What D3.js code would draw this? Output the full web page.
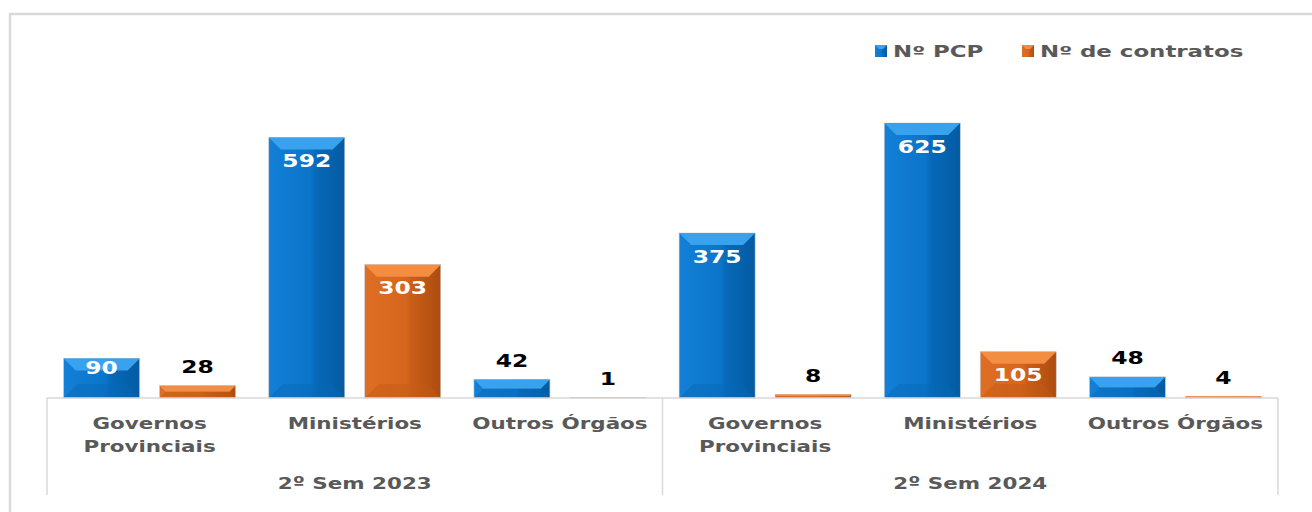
<!DOCTYPE html>
<html>
<head>
<meta charset="utf-8">
<script src="https://cdn.jsdelivr.net/npm/d3@7"></script>
<style>
  body { margin: 0; background: #fff; }
  text { font-family: "DejaVu Sans", Verdana, sans-serif; font-weight: bold; }
</style>
</head>
<body>
<div id="chart"></div>
<script>
// data
var periods = ["2º Sem 2023", "2º Sem 2024"];
var categories = ["Governos Provinciais", "Ministérios", "Outros Órgãos"];
var seriesNames = ["Nº PCP", "Nº de contratos"];
var pcp2023 = [90, 592, 42];
var contratos2023 = [28, 303, 1];
var pcp2024 = [375, 625, 48];
var contratos2024 = [8, 105, 4];

var W = 1312, H = 512;
var stretch = 1.3; // the reference text is drawn wide

var rows = [];
periods.forEach(function(p, pi) {
  var pcp = pi === 0 ? pcp2023 : pcp2024;
  var con = pi === 0 ? contratos2023 : contratos2024;
  categories.forEach(function(c, ci) {
    rows.push({period: p, cat: c, series: seriesNames[0], value: pcp[ci]});
    rows.push({period: p, cat: c, series: seriesNames[1], value: con[ci]});
  });
});

var svg = d3.select("#chart").append("svg")
    .attr("width", W).attr("height", H);

svg.append("rect").attr("width", W).attr("height", H).attr("fill", "#fff");

// outer frame of the chart area
svg.append("rect")
    .attr("x", 10).attr("y", 14)
    .attr("width", W + 40).attr("height", H + 40)
    .attr("fill", "none")
    .attr("stroke", "#d9d9d9")
    .attr("stroke-width", 2.5);

// scales
var x0 = d3.scaleBand().domain(periods).range([47, 1278]);
var x1 = d3.scaleBand().domain(categories).range([0, x0.bandwidth()]);
var x2 = d3.scaleBand().domain(seriesNames).range([0, x1.bandwidth()])
    .paddingInner(0.208).paddingOuter(0.173);
var y = d3.scaleLinear().domain([0, 700]).range([398, 90]);

var palette = {
  "Nº PCP": {main: ["#137fd6", "#0b75ca", "#0769b9", "#045ba1"], top: "#39a2ee", bottom: "#0768b6"},
  "Nº de contratos": {main: ["#de6e24", "#d6661d", "#c95e18", "#ad4c10"], top: "#f38d42", bottom: "#c45a16"}
};

var defs = svg.append("defs");
seriesNames.forEach(function(s, i) {
  var g = defs.append("linearGradient").attr("id", "grad" + i)
      .attr("x1", "0%").attr("x2", "100%").attr("y1", "0%").attr("y2", "0%");
  var c = palette[s].main;
  g.append("stop").attr("offset", "0%").attr("stop-color", c[0]);
  g.append("stop").attr("offset", "55%").attr("stop-color", c[1]);
  g.append("stop").attr("offset", "62%").attr("stop-color", c[2]);
  g.append("stop").attr("offset", "100%").attr("stop-color", c[3]);
});

function xPos(d) { return x0(d.period) + x1(d.cat) + x2(d.series); }

// bars with a bevel look
var bars = svg.append("g").selectAll("g")
  .data(rows)
  .enter().append("g");

bars.append("rect")
    .attr("x", xPos)
    .attr("y", function(d) { return y(d.value); })
    .attr("width", x2.bandwidth())
    .attr("height", function(d) { return y(0) - y(d.value); })
    .attr("fill", function(d) { return "url(#grad" + seriesNames.indexOf(d.series) + ")"; })
    .attr("stroke", "#c9c9c9")
    .attr("stroke-width", 0.6);

bars.append("polygon")
    .attr("points", function(d) {
      var x = xPos(d), w = x2.bandwidth(), t = y(d.value);
      var b = Math.min(12, (y(0) - t) / 2);
      return [[x, t], [x + w, t], [x + w - b, t + b], [x + b, t + b]].join(" ");
    })
    .attr("fill", function(d) { return palette[d.series].top; });

bars.append("polygon")
    .attr("points", function(d) {
      var x = xPos(d), w = x2.bandwidth(), t = y(d.value), base = y(0);
      var b = Math.min(14, (base - t) / 2);
      return [[x, base], [x + w, base], [x + w - b, base - b], [x + b, base - b]].join(" ");
    })
    .attr("fill", function(d) { return palette[d.series].bottom; })
    .attr("opacity", 0.45);

// value labels
bars.append("text")
    .attr("transform", function(d) {
      var cx = xPos(d) + x2.bandwidth() / 2, t = y(d.value), h = y(0) - t;
      var cy = h > 30 ? (h > 40 ? t + 23 : t + 9) : t - 19;
      return "translate(" + cx + "," + (cy + 6.5) + ") scale(" + stretch + ",1)";
    })
    .attr("text-anchor", "middle")
    .attr("font-size", "18px")
    .attr("fill", function(d) { return (y(0) - y(d.value)) > 30 ? "#fff" : "#000"; })
    .text(function(d) { return d.value; });

// axis lines
var axis = svg.append("g").attr("stroke", "#d9d9d9").attr("stroke-width", 1.5);
axis.append("line")
    .attr("x1", x0.range()[0]).attr("x2", x0.range()[1])
    .attr("y1", y(0)).attr("y2", y(0));
var tickXs = periods.map(function(p) { return x0(p); }).concat([x0.range()[1]]);
axis.selectAll(".tick").data(tickXs).enter().append("line")
    .attr("x1", function(d) { return d; }).attr("x2", function(d) { return d; })
    .attr("y1", y(0)).attr("y2", 495);

// category labels, wrapped when too wide for the band
periods.forEach(function(p) {
  categories.forEach(function(c) {
    var cx = x0(p) + x1(c) + x1.bandwidth() / 2;
    var words = c.split(" ");
    var probe = svg.append("text").attr("font-size", "16.5px").text(c);
    var wide = probe.node().getComputedTextLength() * stretch > x1.bandwidth() - 12;
    probe.remove();
    var lines = wide ? words : [c];
    lines.forEach(function(line, li) {
      svg.append("text")
          .attr("transform", "translate(" + cx + "," + (429 + li * 23) + ") scale(" + stretch + ",1)")
          .attr("text-anchor", "middle")
          .attr("font-size", "16.5px")
          .attr("fill", "#595959")
          .text(line);
    });
  });
  svg.append("text")
      .attr("transform", "translate(" + (x0(p) + x0.bandwidth() / 2) + ",489) scale(" + stretch + ",1)")
      .attr("text-anchor", "middle")
      .attr("font-size", "16.5px")
      .attr("fill", "#595959")
      .text(p);
});

// legend
var legX = [875, 1022];
var legend = svg.append("g").selectAll("g")
  .data(seriesNames)
  .enter().append("g");
legend.append("rect")
    .attr("x", function(d, i) { return legX[i]; })
    .attr("y", 45)
    .attr("width", 12).attr("height", 12)
    .attr("fill", function(d, i) { return "url(#grad" + i + ")"; });
legend.append("polygon")
    .attr("points", function(d, i) {
      var x = legX[i];
      return [[x, 45], [x + 12, 45], [x + 8, 49], [x + 4, 49]].join(" ");
    })
    .attr("fill", function(d) { return palette[d].top; });
legend.append("text")
    .attr("transform", function(d, i) { return "translate(" + (legX[i] + 18) + ",57) scale(1.43,1)"; })
    .attr("font-size", "16px")
    .attr("fill", "#595959")
    .text(function(d) { return d; });
</script>
</body>
</html>
